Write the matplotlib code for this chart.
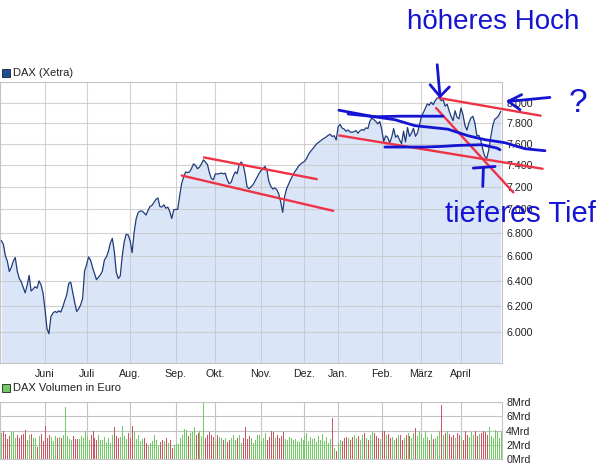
import matplotlib
matplotlib.use('Agg')
import matplotlib.pyplot as plt
from matplotlib.patches import Rectangle
from matplotlib.ticker import FixedLocator, NullLocator, FuncFormatter
import numpy as np

plt.rcParams['font.family'] = ['Liberation Sans', 'DejaVu Sans']

# ── Data: DAX (Xetra) daily closes, May 2012 – April 2013 (trading-day index) ──
closes = [
    6730, 6700, 6605, 6560, 6476, 6510, 6560, 6590, 6480, 6420,
    6395, 6350, 6305, 6365, 6445, 6320, 6335, 6354, 6342, 6400,
    6370, 6305, 6180, 6030, 5990, 6120, 6147, 6160, 6152, 6165,
    6155, 6195, 6245, 6290, 6380, 6390, 6310, 6230, 6160, 6180,
    6210, 6260, 6480, 6530, 6595, 6570, 6510, 6460, 6410, 6430,
    6450, 6480, 6570, 6595, 6640, 6710, 6750, 6640, 6470, 6419,
    6440, 6600, 6720, 6785, 6780, 6730, 6630, 6800, 6915, 6970,
    6985, 6985, 6970, 6950, 6990, 7025, 7035, 7060, 7087, 7100,
    7025, 7020, 7040, 7010, 7020, 6980, 6920, 6995, 7000, 7000,
    7120, 7230, 7290, 7335, 7330, 7335, 7370, 7410, 7395, 7365,
    7380, 7410, 7448, 7426, 7405, 7330, 7275, 7265, 7318, 7316,
    7320, 7326, 7318, 7324, 7265, 7228, 7242, 7294, 7336, 7320,
    7400, 7427, 7405, 7320, 7200, 7183, 7200, 7218, 7251, 7285,
    7320, 7347, 7362, 7387, 7355, 7250, 7205, 7180, 7190, 7175,
    7136, 7065, 6974, 7115, 7185, 7225, 7265, 7300, 7335, 7360,
    7390, 7408, 7422, 7433, 7458, 7498, 7525, 7548, 7570, 7596,
    7611, 7625, 7640, 7652, 7665, 7680, 7690, 7668, 7676, 7635,
    7765, 7784, 7750, 7740, 7718, 7732, 7712, 7708, 7715, 7725,
    7700, 7723, 7735, 7728, 7752, 7745, 7815, 7847, 7832, 7815,
    7790, 7814, 7735, 7620, 7675, 7660, 7607, 7661, 7745, 7661,
    7680, 7635, 7600, 7720, 7617, 7755, 7670, 7700, 7748, 7670,
    7700, 7775, 7860, 7900, 7945, 7988, 7975, 8005, 7980, 8022,
    8047, 8050, 8020, 8030, 7965, 7985, 7920, 7865, 7822, 7920,
    7855, 7840, 7947, 7880, 7775, 7730, 7801, 7848, 7865, 7800,
    7675, 7680, 7630, 7545, 7480, 7461, 7540, 7660, 7770, 7835,
    7849, 7870, 7913,
]

# daily turnover in billion euro (Mrd)
volume = [
    3.6, 4.0, 3.5, 2.8, 3.2, 3.8, 3.8, 2.9, 3.4, 3.0,
    3.3, 3.5, 4.1, 2.6, 3.3, 3.5, 3.0, 2.9, 1.7, 3.2,
    3.5, 2.5, 4.6, 2.9, 3.3, 3.1, 2.5, 3.2, 3.0, 3.1,
    3.0, 3.3, 7.3, 3.2, 2.8, 2.7, 3.2, 2.8, 2.8, 2.8,
    3.2, 3.0, 4.0, 3.2, 2.6, 3.3, 3.9, 3.0, 2.7, 3.3,
    2.7, 2.6, 3.1, 2.4, 3.0, 2.3, 3.4, 4.5, 3.2, 3.0,
    3.1, 4.6, 3.2, 2.8, 3.6, 2.9, 4.6, 3.9, 2.8, 3.4,
    2.5, 2.8, 2.9, 2.3, 2.0, 2.2, 2.5, 3.3, 2.6, 1.8,
    2.4, 2.7, 2.5, 2.9, 2.2, 2.6, 1.6, 2.0, 2.3, 2.1,
    3.0, 3.4, 4.2, 4.1, 3.2, 3.6, 3.8, 4.5, 3.3, 3.6,
    3.9, 3.2, 7.9, 3.0, 3.3, 3.8, 3.4, 3.1, 2.5, 3.4,
    3.1, 2.9, 2.6, 2.9, 2.4, 2.6, 3.0, 3.4, 2.7, 3.0,
    3.3, 2.2, 3.0, 4.5, 2.8, 3.2, 2.9, 2.3, 2.7, 3.3,
    3.3, 2.5, 3.0, 3.6, 2.6, 3.1, 3.9, 3.8, 2.9, 3.3,
    3.0, 3.2, 3.8, 2.8, 2.6, 3.1, 3.0, 2.7, 2.8, 2.5,
    2.4, 2.9, 2.6, 3.2, 3.7, 2.5, 3.1, 2.8, 3.0, 2.4,
    3.2, 2.7, 3.5, 2.5, 3.1, 2.2, 2.8, 5.7, 1.6, 1.1,
    2.2, 2.7, 2.5, 2.9, 3.1, 3.0, 2.6, 3.1, 3.4, 2.9,
    3.2, 2.7, 3.4, 3.6, 3.0, 2.7, 3.3, 3.8, 3.7, 3.2,
    3.0, 2.8, 3.9, 4.0, 3.3, 3.5, 2.9, 3.1, 2.7, 2.9,
    3.4, 3.3, 2.6, 3.0, 3.4, 3.7, 3.2, 2.9, 3.6, 4.3,
    3.2, 3.9, 3.5, 3.0, 3.9, 3.1, 2.7, 3.5, 2.8, 3.0,
    3.2, 3.9, 7.6, 3.3, 3.6, 4.0, 3.5, 3.1, 3.3, 2.9,
    3.6, 3.4, 3.2, 2.7, 3.9, 3.3, 3.1, 3.8, 3.4, 3.9,
    3.2, 3.5, 3.6, 4.0, 3.8, 3.3, 4.5, 3.2, 3.0, 4.1,
    4.0, 2.9, 3.9,
]

# first trading day of each month (index into closes)
month_starts = [22, 43, 65, 88, 108, 131, 153, 170, 192, 212, 232]
month_labels = ['Juni', 'Juli', 'Aug.', 'Sep.', 'Okt.', 'Nov.', 'Dez.',
                'Jan.', 'Feb.', 'März', 'April']

price_ticks = [6000, 6200, 6400, 6600, 6800, 7000, 7200, 7400, 7600, 7800, 8000]
vol_ticks = [0, 2, 4, 6, 8]

# ── Hand-drawn annotations (trading-day index, index points) ─────────────────
red_lines = [
    ([102.3, 159.2], [7470, 7270]),
    ([91.0, 167.5], [7303, 6987]),
    ([170.6, 273.2], [7678, 7365]),
    ([221.0, 272.2], [8047, 7871]),
    ([219.4, 258.4], [7947, 7150]),
]
blue_strokes = [
    ([170.4, 187.1, 198.7, 208.8, 225.4, 235.5, 244.1, 254.2, 264.3, 274.4],
     [7925, 7864, 7831, 7773, 7739, 7676, 7638, 7609, 7552, 7533]),
    ([175.0, 188.6], [7888, 7861]),
    ([187.1, 201.2, 222.9], [7860, 7866, 7866]),
    ([193.6, 213.8, 222.4, 230.0, 242.6, 250.2, 251.7],
     [7568, 7568, 7574, 7583, 7590, 7558, 7542]),
    # arrow down onto the high
    ([220.0, 221.4], [8390, 8063]),
    ([216.4, 221.4, 226.1], [8182, 8063, 8159]),
    # arrow pointing left to the 8.000 mark
    ([276.9, 255.9], [8053, 8013]),
    ([262.6, 255.9, 261.8], [8081, 8013, 7930]),
    # arrow up to the low
    ([243.0, 243.3], [7203, 7371]),
    ([238.2, 249.2], [7371, 7386]),
]

LINE_COL = '#1f3b7a'
FILL_COL = '#dae6f8'
GRID_COL = '#c4c4c4'
RED = '#ee3346'
BLUE = '#1414d2'
TEXT_COL = '#222222'
GREEN_BAR = '#6fcb62'
RED_BAR = '#cf5564'

days = np.arange(len(closes))
W, H = 602, 465

fig = plt.figure(figsize=(W / 100, H / 100), dpi=100)
ax = fig.add_axes([0, 1 - 363 / H, 502 / W, (363 - 82) / H])
axv = fig.add_axes([0, 1 - 459 / H, 502 / W, (459 - 402) / H])

# ── Price panel ───────────────────────────────────────────────────────────────
ax.fill_between(days, closes, 5000, color=FILL_COL, lw=0, zorder=0.5)
ax.plot(days, closes, color=LINE_COL, lw=0.9, zorder=3)
ax.set_yscale('log')
ax.set_ylim(5775, 8210)
ax.set_xlim(-0.7, 252.7)
ax.yaxis.set_major_locator(FixedLocator(price_ticks))
ax.yaxis.set_minor_locator(NullLocator())
ax.yaxis.set_major_formatter(FuncFormatter(lambda v, p: f'{v:,.0f}'.replace(',', '.')))
ax.yaxis.tick_right()
ax.set_xticks(month_starts)
ax.set_xticklabels(month_labels)
ax.tick_params(length=0, labelsize=7.7, colors=TEXT_COL)
ax.tick_params(axis='y', pad=3)
ax.tick_params(axis='x', pad=4)
ax.set_axisbelow(False)
ax.grid(color=GRID_COL, lw=0.8, alpha=0.75, zorder=2)
for s in ax.spines.values():
    s.set_color(GRID_COL)
    s.set_linewidth(0.8)

# ── Volume panel ──────────────────────────────────────────────────────────────
# green bar when the index closed higher than the day before, red otherwise
bar_cols = [GREEN_BAR if i == 0 or closes[i] >= closes[i - 1] else RED_BAR
            for i in range(len(closes))]
axv.vlines(days, 0, volume, colors=bar_cols, lw=0.55, antialiased=False, zorder=2)
axv.set_xlim(-0.7, 252.7)
axv.set_ylim(0, 8)
axv.set_yticks(vol_ticks)
axv.set_yticklabels([f'{v}Mrd' for v in vol_ticks])
axv.yaxis.tick_right()
axv.set_xticks(month_starts)
axv.set_xticklabels([])
axv.tick_params(length=0, labelsize=7.7, colors=TEXT_COL, pad=3)
axv.grid(color=GRID_COL, lw=0.8, zorder=0)
axv.set_axisbelow(True)
for s in axv.spines.values():
    s.set_color(GRID_COL)
    s.set_linewidth(0.8)

# ── Legends ───────────────────────────────────────────────────────────────────
fig.add_artist(Rectangle((2 / W, 1 - 77 / H), 8 / W, 8 / H, transform=fig.transFigure,
                         facecolor='#1f4f9a', edgecolor='#222222', lw=0.6))
fig.text(13 / W, 1 - 73 / H, 'DAX (Xetra)', fontsize=8, color=TEXT_COL, va='center')
fig.add_artist(Rectangle((2 / W, 1 - 392 / H), 8 / W, 8 / H, transform=fig.transFigure,
                         facecolor=GREEN_BAR, edgecolor='#222222', lw=0.6))
fig.text(13 / W, 1 - 388 / H, 'DAX Volumen in Euro', fontsize=8, color=TEXT_COL,
         va='center')

# ── Hand-drawn markup ─────────────────────────────────────────────────────────
for xs, ys in red_lines:
    ax.plot(xs, ys, color=RED, lw=1.7, solid_capstyle='round', zorder=5, clip_on=False)
for xs, ys in blue_strokes:
    ax.plot(xs, ys, color=BLUE, lw=2.0, solid_capstyle='round',
            solid_joinstyle='round', zorder=6, clip_on=False)

fig.text(493 / W, 1 - 22 / H, 'höheres Hoch', fontsize=20, color=BLUE,
         ha='center', va='center')
fig.text(445 / W, 1 - 214 / H, 'tieferes Tief', fontsize=21, color=BLUE,
         ha='left', va='center', zorder=10)
fig.text(578 / W, 1 - 103 / H, '?', fontsize=24, color=BLUE, ha='center', va='center')

fig.savefig('out.png', dpi=100)
